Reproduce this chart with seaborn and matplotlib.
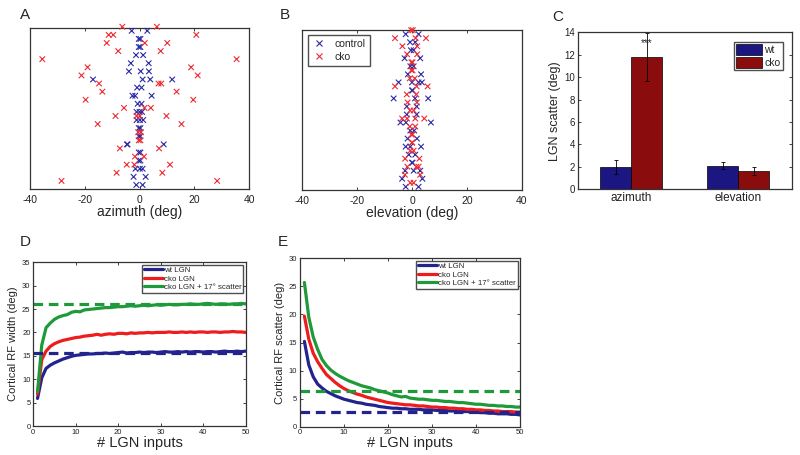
import numpy as np
import pandas as pd
import matplotlib
matplotlib.use('Agg')
import matplotlib.pyplot as plt
from matplotlib.lines import Line2D
import seaborn as sns

# ---- data ----
# A: azimuth offsets, one row per cell (row number counted from the top)
az_ctrl_row = [2, 2, 4, 4, 6, 6, 8, 8, 10, 10, 12, 12, 12, 14, 14, 14, 14, 16, 16, 18, 18, 18, 20, 20,
               22, 22, 22, 24, 24, 24, 26, 26, 28, 28, 30, 30, 30, 32, 32, 34, 34, 36, 36, 36, 38, 38, 40, 40]
az_ctrl_x = [-2.9, 2.8, -0.3, 0.3, -0.3, 0.3, -1.3, 1.3, -3.2, 3.3, -3.9, 0.4, 3.4, -17.0, 1.1, 3.9, 11.9,
             -0.9, 0.7, -2.6, -1.6, 4.4, -0.7, 0.7, -1.1, 0.0, 0.9, -1.1, 0.1, 1.3, -0.3, 0.3, -0.3, 0.3,
             -4.6, -4.4, 8.8, -0.3, 0.3, -0.3, 0.3, -1.5, 0.1, 1.1, -2.2, 2.2, -1.2, 1.1]
az_cko_row = [1, 1, 3, 3, 3, 5, 5, 5, 7, 7, 9, 9, 11, 11, 13, 13, 15, 15, 15, 17, 17, 19, 19, 21, 21, 21,
              23, 23, 23, 23, 25, 25, 27, 27, 29, 29, 31, 31, 33, 33, 35, 35, 35, 37, 37, 39, 39]
az_cko_x = [-6.3, 6.3, -11.3, -9.6, 20.7, -12.0, 1.9, 10.1, -7.8, 7.7, -35.5, 35.4, -19.0, 18.8, -21.2, 21.2,
            -14.8, 6.9, 7.9, -13.6, 13.5, -19.7, 19.6, -5.7, 1.8, 4.1, -8.8, -1.1, 0.1, 9.8, -15.3, 15.3,
            -0.5, 0.5, -0.3, 0.3, -7.2, 7.1, -1.7, 1.6, -4.7, -1.9, 11.1, -8.4, 8.3, -28.5, 28.3]

# B: elevation offsets
el_ctrl_row = [2, 2, 4, 4, 6, 6, 8, 8, 10, 10, 12, 12, 14, 14, 14, 14, 16, 16, 18, 18, 18, 20, 20, 22, 22,
               24, 24, 24, 26, 26, 28, 28, 30, 30, 30, 32, 32, 34, 34, 36, 36, 36, 38, 38, 40, 40]
el_ctrl_x = [-2.3, 2.4, -0.7, 1.2, -0.4, 0.6, -2.7, 3.0, -0.6, 0.6, -1.5, 3.3, -4.9, 0.0, 2.4, 3.6, 0.0, 0.2,
             -6.7, 1.1, 5.9, -1.9, 1.7, -1.9, 1.7, -4.2, -2.2, 6.9, -0.6, 0.8, -1.6, 1.8, -2.3, -0.6, 3.3,
             -1.2, 1.2, 0.0, 0.2, -2.5, 0.6, 3.0, -3.6, 3.8, -2.3, 2.4]
el_cko_row = [1, 1, 3, 3, 3, 5, 5, 7, 7, 9, 9, 11, 11, 13, 13, 15, 15, 15, 17, 17, 19, 19, 21, 21, 23, 23,
              23, 23, 25, 25, 27, 27, 29, 29, 31, 31, 33, 33, 35, 35, 35, 37, 37, 39, 39]
el_cko_x = [-0.3, 0.3, -6.2, 1.3, 5.1, -3.5, 1.9, -1.8, 1.9, -0.2, 0.2, -0.2, 0.2, -0.8, 1.0, -6.2, 1.7, 5.7,
            -1.9, 1.6, -1.6, 1.8, -0.7, 0.6, -3.6, -1.8, 1.2, 4.5, -0.8, 1.2, -0.2, 0.2, 0.0, 0.1, -0.6, 0.6,
            -2.5, 2.7, -1.7, 1.6, 2.4, -2.6, 3.0, -0.6, 0.6]

# C: LGN scatter bars
directions = ['azimuth', 'elevation']
scatter_wt = [2.0, 2.1]
scatter_cko = [11.8, 1.65]
err_wt = [0.6, 0.3]
err_cko = [2.1, 0.35]

# D / E: model curves
n_inputs = list(range(1, 51))
width_wt = [5.9, 10.3, 12.3, 13.0, 13.5, 13.9, 14.3, 14.6, 14.9, 15.1, 15.2, 15.3, 15.4, 15.4, 15.5, 15.5, 15.6,
            15.5, 15.6, 15.7, 15.8, 15.6, 15.7, 15.7, 15.8, 15.7, 15.8, 15.8, 15.7, 15.8, 15.9, 15.8, 15.8, 15.9,
            15.8, 15.9, 15.8, 15.9, 15.9, 15.8, 15.9, 15.9, 15.8, 15.9, 16.0, 15.9, 15.9, 16.0, 15.9, 16.0]
width_cko = [6.8, 14.2, 16.0, 17.0, 17.6, 18.0, 18.3, 18.5, 18.7, 18.9, 19.0, 19.2, 19.3, 19.4, 19.6, 19.4, 19.6,
             19.7, 19.6, 19.8, 19.8, 19.7, 19.9, 19.8, 19.9, 19.9, 20.0, 19.9, 20.0, 20.0, 20.0, 20.1, 20.0, 20.0,
             20.1, 20.0, 20.1, 20.0, 20.1, 20.1, 20.0, 20.1, 20.1, 20.0, 20.1, 20.1, 20.2, 20.1, 20.1, 20.0]
width_cko17 = [7.3, 17.3, 21.0, 22.0, 22.8, 23.3, 23.6, 23.8, 24.3, 24.5, 24.4, 24.8, 24.9, 25.0, 25.1, 25.2, 25.3,
               25.3, 25.4, 25.5, 25.5, 25.6, 25.7, 25.6, 25.7, 25.8, 25.7, 25.8, 25.9, 25.8, 25.9, 26.0, 25.9, 25.9,
               26.0, 26.0, 26.1, 26.0, 26.0, 26.1, 26.2, 26.1, 26.0, 26.1, 26.1, 26.0, 26.1, 26.1, 26.2, 26.1]
width_ref = [15.7, 26.1]   # dashed: wt, cko+17

scat_wt = [15.2, 11.0, 8.9, 7.6, 6.9, 6.3, 5.9, 5.5, 5.2, 4.9, 4.7, 4.5, 4.3, 4.2, 4.0, 3.9, 3.8, 3.6, 3.5, 3.4,
           3.3, 3.3, 3.2, 3.2, 3.1, 3.1, 3.1, 3.0, 3.0, 3.0, 2.9, 2.9, 2.9, 2.8, 2.8, 2.8, 2.7, 2.7, 2.6, 2.6,
           2.5, 2.5, 2.4, 2.4, 2.3, 2.3, 2.3, 2.2, 2.2, 2.1]
scat_cko = [19.7, 15.6, 13.1, 11.6, 10.4, 9.3, 8.6, 7.9, 7.3, 6.8, 6.4, 6.1, 5.8, 5.6, 5.3, 5.1, 4.9, 4.7, 4.5, 4.3,
            4.2, 4.1, 4.0, 3.9, 3.9, 3.8, 3.7, 3.7, 3.6, 3.5, 3.5, 3.4, 3.4, 3.3, 3.3, 3.2, 3.2, 3.1, 3.1, 3.0,
            3.0, 2.9, 2.9, 2.8, 2.8, 2.7, 2.7, 2.7, 2.6, 2.6]
scat_cko17 = [25.7, 19.5, 16.0, 13.8, 12.0, 10.9, 10.1, 9.5, 9.0, 8.6, 8.2, 7.9, 7.6, 7.3, 7.1, 6.9, 6.6, 6.4, 6.2,
              6.0, 5.7, 5.5, 5.3, 5.4, 5.1, 5.0, 4.9, 4.9, 4.8, 4.7, 4.7, 4.6, 4.5, 4.5, 4.4, 4.3, 4.3, 4.2, 4.1,
              4.0, 4.0, 3.9, 3.8, 3.8, 3.7, 3.7, 3.6, 3.6, 3.5, 3.5]
scat_ref = [2.7, 6.4]

blue_x, red_x = '#2b2ba6', '#ee2b33'
navy, maroon = '#1c1682', '#8a0c0c'
c_wt, c_cko, c_17 = '#23238e', '#ee1c1c', '#1f9a3a'

# ---- style ----
sns.set_theme(style='white')
plt.rcParams['font.family'] = ['Liberation Sans', 'DejaVu Sans']
plt.rcParams['axes.edgecolor'] = '#333333'
plt.rcParams['axes.unicode_minus'] = False

fig = plt.figure(figsize=(8, 4.55), dpi=100)


def frame(ax, size, pad=2):
    ax.tick_params(direction='in', top=True, right=True, bottom=True, left=True,
                   length=2.5, width=0.6, labelsize=size, pad=pad, colors='#222222')
    for s in ax.spines.values():
        s.set_linewidth(0.9)


def scatter_panel(ax, crow, cx, krow, kx, xlab, ylim):
    df = pd.concat([pd.DataFrame({'x': cx, 'row': crow, 'g': 'control'}),
                    pd.DataFrame({'x': kx, 'row': krow, 'g': 'cko'})])
    sns.scatterplot(data=df, x='x', y='row', hue='g', palette={'control': blue_x, 'cko': red_x},
                    marker='x', s=16, linewidth=0.8, legend=False, ax=ax, clip_on=False, zorder=3)
    ax.set_xlim(-40, 40)
    ax.set_ylim(*ylim)
    ax.set_xticks([-40, -20, 0, 20, 40])
    ax.set_yticks([])
    ax.set_ylabel('')
    ax.set_xlabel(xlab, fontsize=10, labelpad=0)
    frame(ax, 7.5, pad=4)


# A
axA = fig.add_axes([0.0375, 0.584, 0.274, 0.355])
scatter_panel(axA, az_ctrl_row, az_ctrl_x, az_cko_row, az_cko_x, 'azimuth (deg)', (41.07, 1.25))

# B
axB = fig.add_axes([0.378, 0.582, 0.274, 0.353])
scatter_panel(axB, el_ctrl_row, el_ctrl_x, el_cko_row, el_cko_x, 'elevation (deg)', (40.85, 0.85))
hB = [Line2D([], [], ls='', marker='x', color=blue_x, ms=4, mew=0.8),
      Line2D([], [], ls='', marker='x', color=red_x, ms=4, mew=0.8)]
axB.legend(hB, ['control', 'cko'], loc='upper left', fontsize=7.5, frameon=True, fancybox=False,
           edgecolor='#222222', handlelength=1.4, borderaxespad=0.5, labelspacing=0.25)

# C
axC = fig.add_axes([0.722, 0.584, 0.268, 0.345])
dfC = pd.DataFrame({'dir': directions * 2, 'val': scatter_wt + scatter_cko,
                    'geno': ['wt'] * 2 + ['cko'] * 2, 'err': err_wt + err_cko})
sns.barplot(data=dfC, x='dir', y='val', hue='geno', palette=[navy, maroon], width=0.58,
            edgecolor='black', linewidth=0.5, errorbar=None, saturation=1, ax=axC)
for cont, errs in zip(axC.containers, [err_wt, err_cko]):
    xs = [b.get_x() + b.get_width() / 2 for b in cont]
    ys = [b.get_height() for b in cont]
    axC.errorbar(xs, ys, yerr=errs, fmt='none', ecolor='black', elinewidth=0.6, capsize=1.5, capthick=0.6)
b = axC.containers[1][0]
axC.text(b.get_x() + b.get_width() / 2, 12.6, '***', ha='center', va='bottom', fontsize=7)
axC.set_xlim(-0.5, 1.5)
axC.set_ylim(0, 14)
axC.set_yticks(range(0, 15, 2))
axC.set_xlabel('')
axC.set_ylabel('LGN scatter (deg)', fontsize=9, labelpad=2)
frame(axC, 7)
axC.tick_params(axis='x', labelsize=8.5, top=False, length=0)
axC.legend(loc='upper right', fontsize=7.5, frameon=True, fancybox=False, edgecolor='#222222',
           handlelength=2.5, handleheight=1.3, borderaxespad=0.9, labelspacing=0.15,
           handletextpad=0.2, borderpad=0.2)


def curve_panel(ax, wt, cko, c17, ref, ylim, yticks, ylab):
    df = pd.DataFrame({'n': n_inputs * 3, 'v': wt + cko + c17,
                       'g': ['wt LGN'] * 50 + ['cko LGN'] * 50 + ['cko LGN + 17\u00b0 scatter'] * 50})
    sns.lineplot(data=df, x='n', y='v', hue='g', palette=[c_wt, c_cko, c_17], lw=2.3, ax=ax, legend=False)
    ax.axhline(ref[0], color=c_wt, lw=2.3, dashes=(3, 1.8))
    ax.axhline(ref[1], color=c_17, lw=2.3, dashes=(3, 1.8))
    ax.set_xlim(0, 50)
    ax.set_ylim(*ylim)
    ax.set_yticks(yticks)
    ax.set_xticks(range(0, 51, 10))
    ax.set_xlabel('# LGN inputs', fontsize=10.5, labelpad=0)
    ax.set_ylabel(ylab, fontsize=8, labelpad=3)
    frame(ax, 5.5)
    h = [Line2D([], [], color=c, lw=2.3) for c in (c_wt, c_cko, c_17)]
    ax.legend(h, ['wt LGN', 'cko LGN', 'cko LGN + 17\u00b0 scatter'], loc='upper right', fontsize=5.7,
              frameon=True, fancybox=False, edgecolor='#222222', handlelength=2.4, borderaxespad=0.3,
              labelspacing=0.12, handletextpad=0.1, borderpad=0.25)


# D
axD = fig.add_axes([0.0416, 0.0637, 0.2655, 0.36])
curve_panel(axD, width_wt, width_cko, width_cko17, width_ref, (0, 35), range(0, 36, 5),
            'Cortical RF width (deg)')

# E
axE = fig.add_axes([0.375, 0.0622, 0.275, 0.370])
curve_panel(axE, scat_wt, scat_cko, scat_cko17, scat_ref, (0, 30), range(0, 31, 5),
            'Cortical RF scatter (deg)')

for lab, (px, py) in zip('ABCDE', [(20, 8), (280, 8), (552, 10), (20, 235), (278, 235)]):
    fig.text(px / 800, 1 - py / 455, lab, fontsize=11, va='top', ha='left')

fig.savefig('out.png', dpi=100)
